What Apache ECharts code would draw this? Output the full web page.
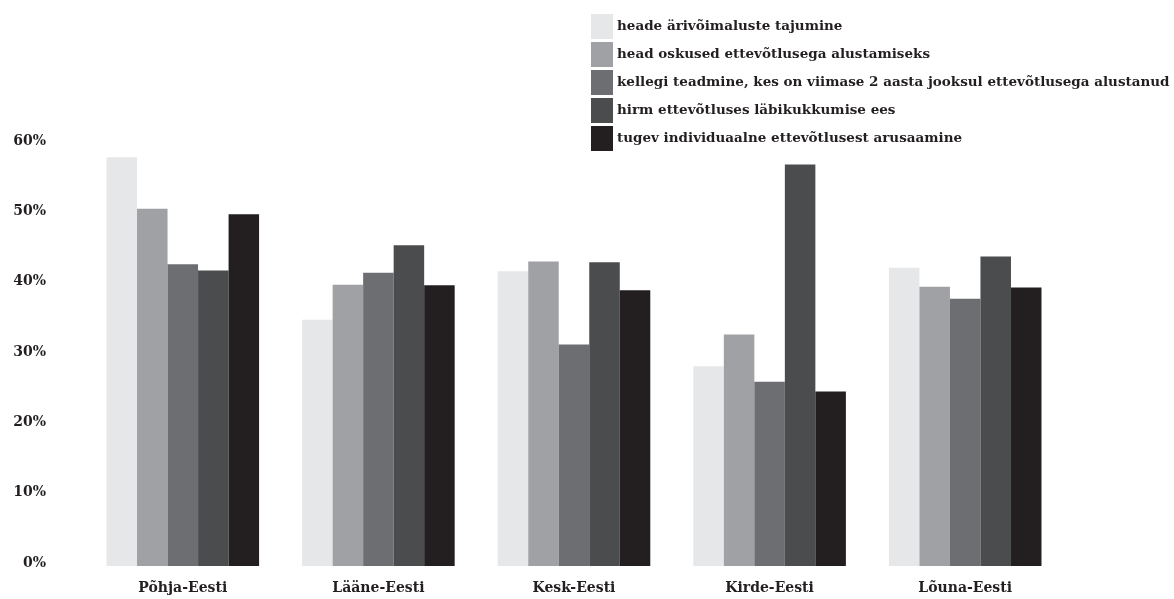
<!DOCTYPE html>
<html>
<head>
<meta charset="utf-8">
<script src="https://cdn.jsdelivr.net/npm/echarts@6/dist/echarts.min.js"></script>
<style>
html,body{margin:0;padding:0;background:#fff;}
#chart{width:1174px;height:599px;}
</style>
</head>
<body>
<div id="chart"></div>
<script>
const categories = ['Põhja-Eesti', 'Lääne-Eesti', 'Kesk-Eesti', 'Kirde-Eesti', 'Lõuna-Eesti'];
const seriesNames = [
  'heade ärivõimaluste tajumine',
  'head oskused ettevõtlusega alustamiseks',
  'kellegi teadmine, kes on viimase 2 aasta jooksul ettevõtlusega alustanud',
  'hirm ettevõtluses läbikukkumise ees',
  'tugev individuaalne ettevõtlusest arusaamine'
];
const s1 = [58.1, 35.0, 41.9, 28.4, 42.4];
const s2 = [50.8, 40.0, 43.3, 32.9, 39.7];
const s3 = [42.9, 41.7, 31.5, 26.2, 38.0];
const s4 = [42.0, 45.6, 43.2, 57.1, 44.0];
const s5 = [50.0, 39.9, 39.2, 24.8, 39.6];
const yTicks = [0, 10, 20, 30, 40, 50, 60];
const colors = ['#e6e7e8', '#a0a1a4', '#6d6e71', '#4b4c4e', '#231f20'];

const values = [s1, s2, s3, s4, s5];
const font = '"DejaVu Serif", "Liberation Serif", serif';
const chart = echarts.init(document.getElementById('chart'), null, {renderer: 'canvas'});
chart.setOption({
  animation: false,
  color: colors,
  legend: {
    orient: 'vertical',
    left: 591,
    top: 14,
    itemWidth: 22,
    itemHeight: 25,
    itemGap: 3,
    icon: 'rect',
    padding: 0,
    textStyle: {fontFamily: font, fontWeight: 'bold', fontSize: 13.5, color: '#231f20', padding: [0, 0, 0, -1]},
    data: seriesNames
  },
  grid: {left: 85, right: 111, top: 144, bottom: 33, containLabel: false},
  xAxis: {
    type: 'category',
    data: categories,
    axisLine: {show: false},
    axisTick: {show: false},
    axisLabel: {fontFamily: font, fontWeight: 'bold', fontSize: 14, color: '#231f20', margin: 15}
  },
  yAxis: {
    type: 'value',
    min: yTicks[0],
    max: yTicks[yTicks.length - 1],
    interval: 10,
    splitLine: {show: false},
    axisLine: {show: false},
    axisTick: {show: false},
    axisLabel: {fontFamily: font, fontWeight: 'bold', fontSize: 14, color: '#231f20', margin: 39,
      formatter: v => v + '%', verticalAlign: 'bottom', padding: [0, 0, -4, 0]}
  },
  series: seriesNames.map((n, i) => ({
    name: n,
    type: 'bar',
    data: values[i],
    barGap: '0%',
    barCategoryGap: '22%',
    itemStyle: {color: colors[i]}
  }))
});
</script>
</body>
</html>
